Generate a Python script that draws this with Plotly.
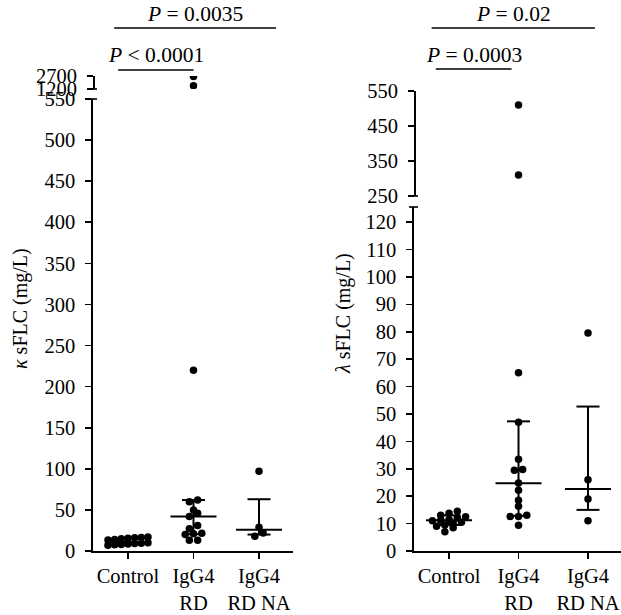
import numpy as np
import plotly.graph_objects as go

W, H = 621, 615
FONT = "Liberation Serif"

# ---------------- data ----------------
categories = ["Control", "IgG4<br>RD", "IgG4<br>RD NA"]

kappa_control = [17, 16.5, 16, 15.5, 15, 14, 13.5, 10, 9.5, 9, 8.5, 8, 7.5, 7]
kappa_rd = [2650, 1580, 220, 62, 60, 50, 46, 42, 31, 27, 21.5, 21, 20, 13, 13]
kappa_rdna = [97, 29, 22, 18]
kappa_median = [11, 42, 26]
kappa_low = [8.5, 20.5, 20]
kappa_high = [15, 62, 63]

lambda_control = [14.5, 13.8, 13, 12.5, 12, 11.5, 11.2, 11, 10.5, 10, 9.5, 9, 8.5, 7]
lambda_rd = [510, 310, 65, 47, 33.5, 29.7, 29.5, 24.8, 22.2, 18.5, 16.3, 13, 12.6, 12.6, 9.4]
lambda_rdna = [79.5, 26, 19, 11]
lambda_median = [11.2, 24.7, 22.6]
lambda_low = [9.5, 12.8, 15]
lambda_high = [13, 47.3, 52.7]

kappa_lower_ticks = list(range(0, 551, 50))
kappa_upper_ticks = [1200, 2700]
lambda_lower_ticks = list(range(0, 121, 10))
lambda_upper_ticks = [250, 350, 450, 550]

left_p_labels = ["<i>P</i> = 0.0035", "<i>P</i> < 0.0001"]
right_p_labels = ["<i>P</i> = 0.02", "<i>P</i> = 0.0003"]
left_title = "<i>κ</i> sFLC (mg/L)"
right_title = "<i>λ</i> sFLC (mg/L)"

# ---------------- layout constants (pixels) ----------------
def px_x(p):
    return p / W

def px_y(p):
    return 1 - p / H

panels = {
    "left": dict(x0=93, x1=293, xr=[-0.534, 2.519],
                 low=dict(top=99, bot=551, rng=[0, 550]),
                 up=dict(top=76, bot=89, rng=[1200, 2700])),
    "right": dict(x0=414, x1=621, xr=[-0.504, 2.475],
                  low=dict(top=207, bot=551, rng=[0, 125.5]),
                  up=dict(top=91, bot=196, rng=[250, 550])),
}

DOT = 7.5
TICK_SIZE = 20.5
LW = 1.6


def row_offsets(vals, ppu, h=5.0, step=8.3, maxw=40.0):
    """GraphPad-like scatter: values within h pixels share a row, spread evenly."""
    vals = np.asarray(vals, dtype=float)
    order = np.argsort(vals, kind="stable")
    offs = np.zeros(len(vals))
    i = 0
    while i < len(order):
        start = vals[order[i]] * ppu
        j = i
        while j < len(order) and vals[order[j]] * ppu - start <= h:
            j += 1
        idx = order[i:j]
        n = len(idx)
        st = step if n == 1 else min(step, maxw / (n - 1))
        for k, ii in enumerate(idx):
            offs[ii] = (k - (n - 1) / 2) * st
        i = j
    return offs


fig = go.Figure()


def add_panel(name, xa, ya_low, ya_up, groups, med, lo, hi, low_ticks, up_ticks,
              p_labels, title, title_x, title_y, brackets):
    P = panels[name]
    xppu = (P["x1"] - P["x0"]) / (P["xr"][1] - P["xr"][0])
    lowppu = (P["low"]["bot"] - P["low"]["top"]) / (P["low"]["rng"][1] - P["low"]["rng"][0])
    upppu = (P["up"]["bot"] - P["up"]["top"]) / (P["up"]["rng"][1] - P["up"]["rng"][0])
    lowmax = P["low"]["rng"][1]
    xref = "x" if xa == "xaxis" else "x" + xa[5:]
    ylref = "y" if ya_low == "yaxis" else "y" + ya_low[5:]
    yuref = "y" + ya_up[5:]

    for gi, vals in enumerate(groups):
        lowv = [v for v in vals if v <= lowmax]
        upv = [v for v in vals if v > lowmax]
        for sub, ppu, yr, base in ((lowv, lowppu, ylref, 0.0),
                                   (upv, upppu, yuref, P["up"]["rng"][0])):
            if not sub:
                continue
            offs = row_offsets(np.array(sub) - base, ppu)
            fig.add_trace(go.Scatter(
                x=gi + offs / xppu, y=sub, mode="markers",
                marker=dict(color="black", size=DOT, line=dict(width=0)),
                xaxis=xref, yaxis=yr, showlegend=False, hoverinfo="y"))
        mh = 23 / xppu
        ch = 11.5 / xppu
        xs = [gi - mh, gi + mh, None, gi, gi, None, gi - ch, gi + ch, None, gi - ch, gi + ch]
        ys = [med[gi], med[gi], None, lo[gi], hi[gi], None, lo[gi], lo[gi], None, hi[gi], hi[gi]]
        fig.add_trace(go.Scatter(x=xs, y=ys, mode="lines",
                                 line=dict(color="black", width=2),
                                 xaxis=xref, yaxis=ylref, showlegend=False, hoverinfo="skip"))

    axis_common = dict(showgrid=False, zeroline=False, showline=True, linecolor="black",
                       linewidth=LW, ticks="outside", ticklen=6, tickwidth=LW,
                       tickcolor="black", automargin=False,
                       tickfont=dict(family=FONT, size=TICK_SIZE, color="black"))
    fig.layout[xa] = dict(domain=[px_x(P["x0"]), min(1.0, px_x(P["x1"]))], range=P["xr"],
                          tickmode="array", tickvals=list(range(len(categories))),
                          ticktext=categories, anchor=ylref, **axis_common)
    fig.layout[ya_low] = dict(domain=[px_y(P["low"]["bot"]), px_y(P["low"]["top"])],
                              range=P["low"]["rng"], tickmode="array", tickvals=low_ticks,
                              anchor=xref, ticklabelstandoff=6, **axis_common)
    fig.layout[ya_up] = dict(domain=[px_y(P["up"]["bot"]), px_y(P["up"]["top"])],
                             range=P["up"]["rng"], tickmode="array", tickvals=up_ticks,
                             anchor="free", position=px_x(P["x0"]),
                             ticklabelstandoff=6, **axis_common)

    for (label, xa0, xa1, ly, ty) in zip(p_labels, brackets["x0"], brackets["x1"],
                                         brackets["line_y"], brackets["text_y"]):
        fig.add_shape(type="line", xref=xref, yref="paper", x0=xa0, x1=xa1,
                      y0=px_y(ly), y1=px_y(ly), line=dict(color="black", width=LW))
        fig.add_annotation(x=(xa0 + xa1) / 2, xref=xref, y=px_y(ty), yref="paper",
                           text=label, showarrow=False,
                           font=dict(family=FONT, size=21.5, color="black"),
                           xanchor="center", yanchor="middle")
    fig.add_annotation(x=px_x(title_x), y=px_y(title_y), xref="paper", yref="paper",
                       text=title, textangle=-90, showarrow=False,
                       font=dict(family=FONT, size=20, color="black"),
                       xanchor="center", yanchor="middle")

    ax = px_x(P["x0"])
    for py in (P["low"]["top"], P["up"]["bot"]):
        fig.add_shape(type="line", xref="paper", yref="paper",
                      x0=ax - 5 / W, x1=ax + 4 / W, y0=px_y(py), y1=px_y(py),
                      line=dict(color="black", width=LW))


add_panel("left", "xaxis", "yaxis", "yaxis2",
          [kappa_control, kappa_rd, kappa_rdna], kappa_median, kappa_low, kappa_high,
          kappa_lower_ticks, kappa_upper_ticks, left_p_labels, left_title, 20, 309,
          dict(x0=[-0.21, -0.15], x1=[2.26, 1.0], line_y=[28, 70], text_y=[14, 55]))
add_panel("right", "xaxis2", "yaxis3", "yaxis4",
          [lambda_control, lambda_rd, lambda_rdna], lambda_median, lambda_low, lambda_high,
          lambda_lower_ticks, lambda_upper_ticks, right_p_labels, right_title, 343, 314,
          dict(x0=[-0.25, -0.19], x1=[2.1, 0.9], line_y=[28, 69], text_y=[14, 55]))

fig.update_layout(template="none", width=W, height=H, margin=dict(l=0, r=0, t=0, b=0, pad=0),
                  paper_bgcolor="white", plot_bgcolor="rgba(0,0,0,0)", showlegend=False,
                  hovermode=False,
                  font=dict(family=FONT, size=TICK_SIZE, color="black"))

# remove the page's default 8 px body margin so the figure sits at the window origin
fig.write_html("out.html", config={"displayModeBar": False, "staticPlot": True},
               post_script="document.body.style.margin='0px';")
